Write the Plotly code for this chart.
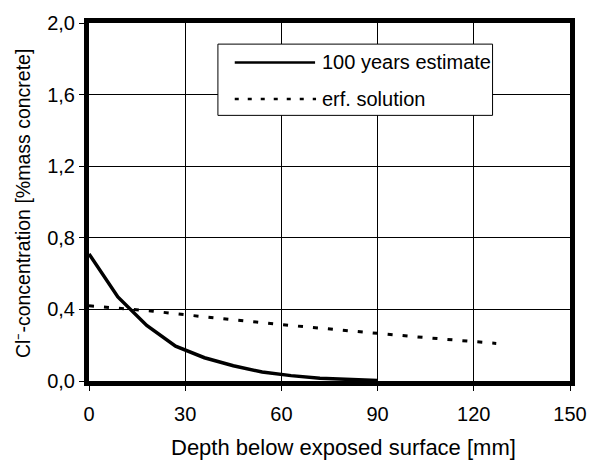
import plotly.graph_objects as go

# Data
depth_est = [0, 9, 18, 27, 36, 45, 54, 63, 72, 81, 90]
conc_est = [0.71, 0.47, 0.31, 0.195, 0.13, 0.085, 0.05, 0.03, 0.015, 0.007, 0.003]

depth_erf = [0, 10, 20, 30, 40, 50, 60, 70, 80, 90, 100, 110, 120, 127]
conc_erf = [0.42, 0.405, 0.39, 0.37, 0.35, 0.333, 0.315, 0.298, 0.281, 0.265, 0.25, 0.235, 0.221, 0.21]

series_names = ["100 years estimate", "erf. solution"]

x_ticks = [0, 30, 60, 90, 120, 150]
x_ticktext = ["0", "30", "60", "90", "120", "150"]
y_ticks = [0.0, 0.4, 0.8, 1.2, 1.6, 2.0]
y_ticktext = ["0,0", "0,4", "0,8", "1,2", "1,6", "2,0"]

x_title = "Depth below exposed surface [mm]"
y_title = "Cl\u207b-concentration [%mass concrete]"

FONT = "Liberation Sans, Arial, sans-serif"
solid = dict(color="black", width=3.5)
dotted = dict(color="black", width=3, dash="5px,10px")

fig = go.Figure()
fig.add_trace(go.Scatter(x=depth_est, y=conc_est, mode="lines",
                         name=series_names[0], line=solid, showlegend=False))
fig.add_trace(go.Scatter(x=depth_erf, y=conc_erf, mode="lines",
                         name=series_names[1], line=dotted, showlegend=False))

# Manual legend (box, line samples, labels) in paper coordinates
fig.add_shape(type="rect", xref="paper", yref="paper", x0=0.268, x1=0.839, y0=0.742, y1=0.941,
              line=dict(color="black", width=1), fillcolor="white", layer="above")
fig.add_shape(type="line", xref="paper", yref="paper", x0=0.303, x1=0.470, y0=0.890, y1=0.890,
              line=dict(color="black", width=2.5), layer="above")
fig.add_shape(type="line", xref="paper", yref="paper", x0=0.303, x1=0.472, y0=0.788, y1=0.788,
              line=dict(color="black", width=2.5, dash="4px,9px"), layer="above")
for name, yy in zip(series_names, [0.890, 0.788]):
    fig.add_annotation(x=0.480, y=yy, xref="paper", yref="paper", text=name, showarrow=False,
                       xanchor="left", yanchor="middle", font=dict(size=20))

# Axis titles
fig.add_annotation(x=0.530, y=-0.185, xref="paper", yref="paper", text=x_title, showarrow=False,
                   xanchor="center", yanchor="middle", font=dict(size=22))
fig.add_annotation(x=-0.136, y=0.496, xref="paper", yref="paper", text=y_title, showarrow=False,
                   xanchor="center", yanchor="middle", textangle=-90, font=dict(size=19.5))

fig.update_layout(
    width=599, height=460,
    margin=dict(l=89, r=18, t=18, b=79),
    paper_bgcolor="white", plot_bgcolor="white",
    font=dict(family=FONT, size=20, color="black"),
    showlegend=False,
    xaxis=dict(range=[0, 150], tickvals=x_ticks, ticktext=x_ticktext,
               showgrid=True, gridcolor="black", gridwidth=1,
               showline=True, linecolor="black", linewidth=5, mirror=True,
               ticks="outside", ticklen=5, tickcolor="black", tickwidth=1,
               zeroline=False, tickfont=dict(size=20), ticklabelstandoff=6),
    yaxis=dict(range=[0, 2.0], tickvals=y_ticks, ticktext=y_ticktext,
               showgrid=True, gridcolor="black", gridwidth=1,
               showline=True, linecolor="black", linewidth=5, mirror=True,
               ticks="outside", ticklen=5, tickcolor="black", tickwidth=1,
               zeroline=False, tickfont=dict(size=20)),
)

fig.write_html("out.html")
